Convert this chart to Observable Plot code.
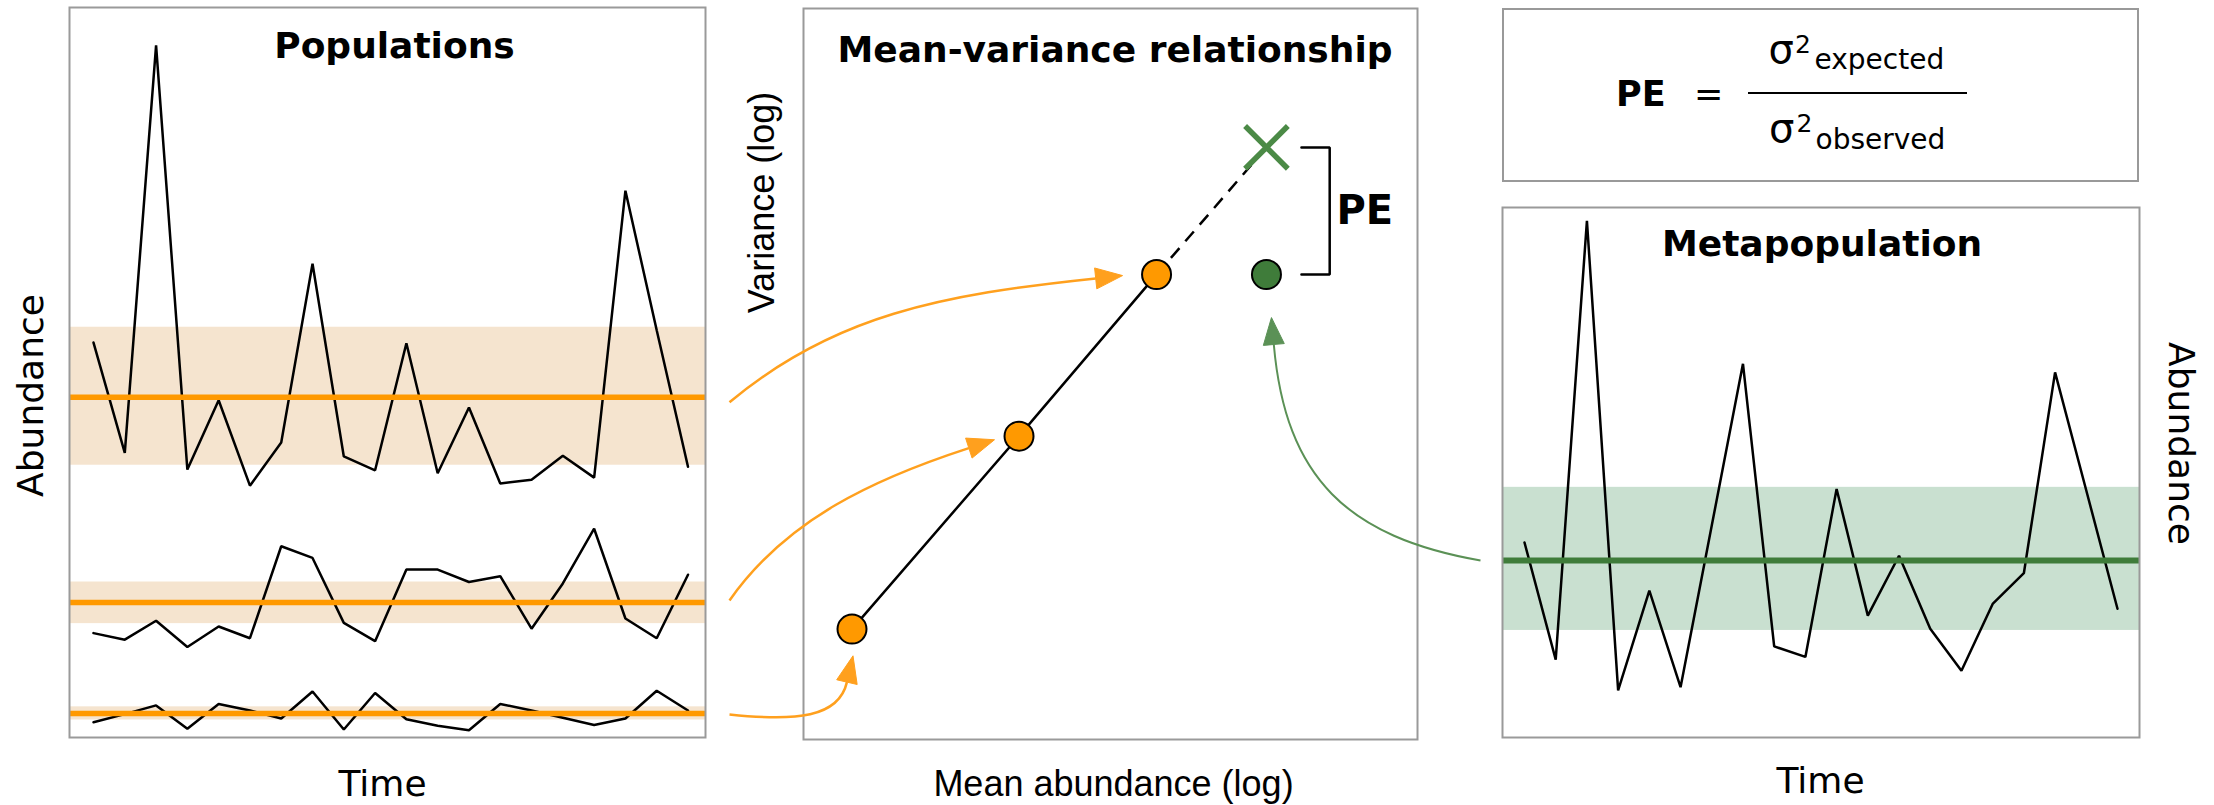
<!DOCTYPE html>
<html><head><meta charset="utf-8">
<script src="https://cdn.jsdelivr.net/npm/d3@7"></script>
<script src="https://cdn.jsdelivr.net/npm/@observablehq/plot@0.6"></script>
<style>
html, body { margin:0; padding:0; background:#fff; overflow:hidden; }
#root { position:relative; width:2214px; height:805px; }
#root svg { position:absolute; left:0; top:0; }
#formula { position:absolute; left:1502px; top:8px; width:637px; height:174px; box-sizing:border-box; border:2px solid #999; font-family:"DejaVu Sans"; color:#000; }
#formula span { position:absolute; line-height:1; white-space:nowrap; }
#formula .bar { position:absolute; background:#000; }
</style></head>
<body><div id="root"></div>
<script>
// ---------------- data ----------------
const time = [1, 2, 3, 4, 5, 6, 7, 8, 9, 10, 11, 12, 13, 14, 15, 16, 17, 18, 19, 20];
// three local populations (abundance, arbitrary units)
const popA = [54.1, 39.0, 94.8, 36.7, 46.2, 34.5, 40.4, 64.9, 38.5, 36.6, 54.0, 36.2, 45.2, 34.8, 35.3, 38.6, 35.6, 74.9, 55.8, 37.1];
const popB = [14.3, 13.4, 16.0, 12.4, 15.2, 13.6, 26.2, 24.6, 15.7, 13.2, 23.0, 23.0, 21.3, 22.1, 14.9, 21.1, 28.6, 16.3, 13.6, 22.3];
const popC = [2.1, 3.2, 4.4, 1.2, 4.6, 3.7, 2.6, 6.3, 1.1, 6.1, 2.5, 1.6, 1.0, 4.6, 3.7, 2.7, 1.7, 2.6, 6.4, 3.7];
const popMean = [46.6, 18.5, 3.3];
const popLow = [37.3, 15.6, 2.4];
const popHigh = [56.2, 21.3, 4.2];
// metapopulation
const meta = [36.8, 14.7, 97.5, 8.9, 27.7, 9.5, 40.0, 70.5, 17.2, 15.2, 46.9, 23.0, 34.3, 20.5, 12.6, 25.2, 31.0, 68.9, 46.6, 24.3];
const metaMean = 33.4, metaLow = 20.2, metaHigh = 47.2;
// mean-variance (log units)
const mvMean = [0.79, 3.51, 5.75];
const mvVar = [1.51, 4.15, 6.36];
const metaMeanLog = 7.54, expectedVar = 8.10, observedVar = 6.36;

// ---------------- styles ----------------
const W = 2214, H = 805;
const FRAME = "#9a9a9a", ORANGE = "#FF9900", ORANGE_BAND = "#f5e4cf", GREEN = "#3f7c3a", GREEN_BAND = "#c9e0d0", GREEN_X = "#4b8a46";
const TITLE = {fontFamily: "DejaVu Sans", fontWeight: "bold", fontSize: 36, fill: "#000", lineAnchor: "bottom", textAnchor: "middle"};
const LAB = {fontFamily: "DejaVu Sans", fontSize: 36, fill: "#000", lineAnchor: "bottom", textAnchor: "middle"};
const LAB2 = {fontFamily: "Liberation Sans", fontSize: 36, fill: "#000", lineAnchor: "bottom", textAnchor: "middle"};
const noBg = {background: "transparent", overflow: "visible"};
const txt = (d) => d;

const root = document.getElementById("root");

// ---------------- left: populations ----------------
const popRows = [popA, popB, popC].flatMap((s, k) => s.map((v, i) => ({pop: k, t: time[i], v})));
const popBands = popMean.map((m, k) => ({mean: m, lo: popLow[k], hi: popHigh[k]}));
const leftPlot = Plot.plot({
  width: W, height: H,
  marginTop: 7, marginRight: W - 705, marginBottom: H - 737, marginLeft: 69,
  insetLeft: 24, insetRight: 17.5,
  x: {domain: [1, 20], axis: null},
  y: {domain: [0, 100], axis: null},
  style: noBg,
  marks: [
    Plot.rect(popBands, {y1: "lo", y2: "hi", fill: ORANGE_BAND}),
    Plot.line(popRows, {x: "t", y: "v", z: "pop", stroke: "#000", strokeWidth: 2.5, strokeLinejoin: "miter"}),
    Plot.ruleY(popBands, {y: "mean", stroke: ORANGE, strokeWidth: 5.5}),
    Plot.frame({stroke: FRAME, strokeWidth: 2}),
    Plot.text(["Populations"], {text: txt, frameAnchor: "top", dx: 7, dy: 50, ...TITLE}),
    Plot.text(["Time"], {text: txt, frameAnchor: "bottom", dx: -5, dy: 58, ...LAB}),
    Plot.text(["Abundance"], {text: txt, frameAnchor: "left", dx: -27, dy: 23, rotate: -90, ...LAB})
  ]
});
root.appendChild(leftPlot);

// ---------------- middle: mean-variance ----------------
const mvRows = mvMean.map((m, i) => ({m, v: mvVar[i]}));
const bracket = [
  {m: metaMeanLog + 0.57, v: expectedVar},
  {m: metaMeanLog + 1.03, v: expectedVar},
  {m: metaMeanLog + 1.03, v: observedVar},
  {m: metaMeanLog + 0.57, v: observedVar}
];
const midPlot = Plot.plot({
  width: W, height: H,
  marginTop: 8, marginRight: W - 1417, marginBottom: H - 739, marginLeft: 803,
  x: {domain: [0, 10], axis: null},
  y: {domain: [0, 10], axis: null},
  style: noBg,
  marks: [
    Plot.line(mvRows, {x: "m", y: "v", stroke: "#000", strokeWidth: 2.5}),
    Plot.link([{x1: mvMean[2], y1: mvVar[2], x2: metaMeanLog, y2: expectedVar}],
      {x1: "x1", y1: "y1", x2: "x2", y2: "y2", stroke: "#000", strokeWidth: 2.5, strokeDasharray: "13,9"}),
    Plot.dot(mvRows, {x: "m", y: "v", r: 14.5, fill: ORANGE, stroke: "#000", strokeWidth: 2}),
    Plot.dot([{m: metaMeanLog, v: observedVar}], {x: "m", y: "v", r: 14.5, fill: GREEN, stroke: "#000", strokeWidth: 2}),
    Plot.dot([{m: metaMeanLog, v: expectedVar}], {x: "m", y: "v", r: 19.5, symbol: "times", stroke: GREEN_X, strokeWidth: 5.5}),
    Plot.line(bracket, {x: "m", y: "v", stroke: "#000", strokeWidth: 2.5, strokeLinejoin: "miter"}),
    Plot.text(["PE"], {text: txt, x: metaMeanLog, y: (expectedVar + observedVar) / 2, dx: 70, textAnchor: "start",
      lineAnchor: "middle", fontFamily: "DejaVu Sans", fontWeight: "bold", fontSize: 40, fill: "#000"}),
    Plot.frame({stroke: FRAME, strokeWidth: 2}),
    Plot.text(["Mean-variance relationship"], {text: txt, frameAnchor: "top", dx: 4.5, dy: 53, ...TITLE}),
    Plot.text(["Mean abundance (log)"], {text: txt, frameAnchor: "bottom", dx: 3, dy: 56, ...LAB2}),
    Plot.text(["Variance (log)"], {text: txt, frameAnchor: "left", dx: -30, dy: -171.5, rotate: -90, ...LAB2})
  ]
});
root.appendChild(midPlot);

// ---------------- right: metapopulation ----------------
const metaRows = meta.map((v, i) => ({t: time[i], v}));
const rightPlot = Plot.plot({
  width: W, height: H,
  marginTop: 207, marginRight: W - 2139, marginBottom: H - 737, marginLeft: 1502,
  insetLeft: 22, insetRight: 22,
  x: {domain: [1, 20], axis: null},
  y: {domain: [0, 100], axis: null},
  style: noBg,
  marks: [
    Plot.rect([{lo: metaLow, hi: metaHigh}], {y1: "lo", y2: "hi", fill: GREEN_BAND}),
    Plot.line(metaRows, {x: "t", y: "v", stroke: "#000", strokeWidth: 2.5, strokeLinejoin: "miter"}),
    Plot.ruleY([metaMean], {y: (d) => d, stroke: GREEN, strokeWidth: 6}),
    Plot.frame({stroke: FRAME, strokeWidth: 2}),
    Plot.text(["Metapopulation"], {text: txt, frameAnchor: "top", dx: 1, dy: 48, ...TITLE}),
    Plot.text(["Time"], {text: txt, frameAnchor: "bottom", dx: -0.5, dy: 55, ...LAB}),
    Plot.text(["Abundance"], {text: txt, frameAnchor: "right", dx: 29, dy: -29, rotate: 90, ...LAB})
  ]
});
root.appendChild(rightPlot);

// ---------------- connecting arrows ----------------
const rad = (a) => a * Math.PI / 180;
function bezierCurve(a0, k1, a1, k2) {
  return (context) => {
    let pts = [];
    return {
      lineStart() { pts = []; },
      point(x, y) { pts.push([+x, +y]); },
      lineEnd() {
        const [[x0, y0], [x3, y3]] = pts;
        const L = Math.hypot(x3 - x0, y3 - y0);
        context.moveTo(x0, y0);
        context.bezierCurveTo(
          x0 + k1 * L * Math.cos(rad(a0)), y0 + k1 * L * Math.sin(rad(a0)),
          x3 - k2 * L * Math.cos(rad(a1)), y3 - k2 * L * Math.sin(rad(a1)),
          x3, y3);
      },
      areaStart() {}, areaEnd() {}
    };
  };
}
function headCurve(w) {
  return (context) => {
    let pts = [];
    return {
      lineStart() { pts = []; },
      point(x, y) { pts.push([+x, +y]); },
      lineEnd() {
        const [[bx, by], [tx, ty]] = pts;
        const L = Math.hypot(tx - bx, ty - by), ux = (tx - bx) / L, uy = (ty - by) / L;
        context.moveTo(tx, ty);
        context.lineTo(bx - uy * w, by + ux * w);
        context.lineTo(bx + uy * w, by - ux * w);
        context.closePath();
      },
      areaStart() {}, areaEnd() {}
    };
  };
}
const ly = leftPlot.scale("y"), mx = midPlot.scale("x"), my = midPlot.scale("y"), ry = rightPlot.scale("y");
const arrows = [
  {sx: 705 + 24, sy: ly.apply(popMean[0]) + 5, tx: mx.apply(mvMean[2]) - 34, ty: my.apply(mvVar[2]) + 1, a0: -40, k1: 0.35, a1: -6, k2: 0.4, color: "#FFA01E", w: 2.5},
  {sx: 705 + 24, sy: ly.apply(popMean[1]) - 2, tx: mx.apply(mvMean[1]) - 24.5, ty: my.apply(mvVar[1]) + 3.6, a0: -55, k1: 0.35, a1: -18, k2: 0.35, color: "#FFA01E", w: 2.5},
  {sx: 705 + 24, sy: ly.apply(popMean[2]) + 1, tx: mx.apply(mvMean[0]) + 1, ty: my.apply(mvVar[0]) + 26.7, a0: 6, k1: 0.55, a1: -77, k2: 0.3, color: "#FFA01E", w: 2.5},
  {sx: 1502 - 22, sy: ry.apply(metaMean), tx: mx.apply(metaMeanLog) + 5, ty: my.apply(observedVar) + 43, a0: -170, k1: 0.45, a1: -95, k2: 0.45, color: "#5b9156", w: 2}
];
const HEAD = 27;
arrows.forEach((a) => { a.bx = a.tx - HEAD * Math.cos(rad(a.a1)); a.by = a.ty - HEAD * Math.sin(rad(a.a1)); });
const arrowMarks = arrows.flatMap((a) => [
  Plot.link([a], {x1: "sx", y1: "sy", x2: "bx", y2: "by", stroke: a.color, strokeWidth: a.w, curve: bezierCurve(a.a0, a.k1, a.a1, a.k2)}),
  Plot.link([a], {x1: "bx", y1: "by", x2: "tx", y2: "ty", fill: a.color, stroke: a.color, strokeWidth: 1, curve: headCurve(10.5)})
]);
const overlay = Plot.plot({
  width: W, height: H, margin: 0,
  x: {domain: [0, W], range: [0, W], axis: null},
  y: {domain: [0, H], range: [0, H], axis: null},
  style: noBg,
  marks: arrowMarks
});
root.appendChild(overlay);

// ---------------- formula box ----------------
const f = document.createElement("div");
f.id = "formula";
f.innerHTML = `
<span style="left:112px;top:67.4px;font-size:35px;font-weight:bold">PE</span>
<span style="left:190px;top:67.4px;font-size:35px">=</span>
<div class="bar" style="left:244px;top:82px;width:219px;height:2px"></div>
<span style="left:264.5px;top:19.2px;font-size:40px">σ</span>
<span style="left:291px;top:21.9px;font-size:25px">2</span>
<span style="left:310.5px;top:36.3px;font-size:28px">expected</span>
<span style="left:265px;top:98.2px;font-size:40px">σ</span>
<span style="left:292.5px;top:100.6px;font-size:25px">2</span>
<span style="left:311.5px;top:116.3px;font-size:28px">observed</span>`;
root.appendChild(f);
</script>
</body></html>
